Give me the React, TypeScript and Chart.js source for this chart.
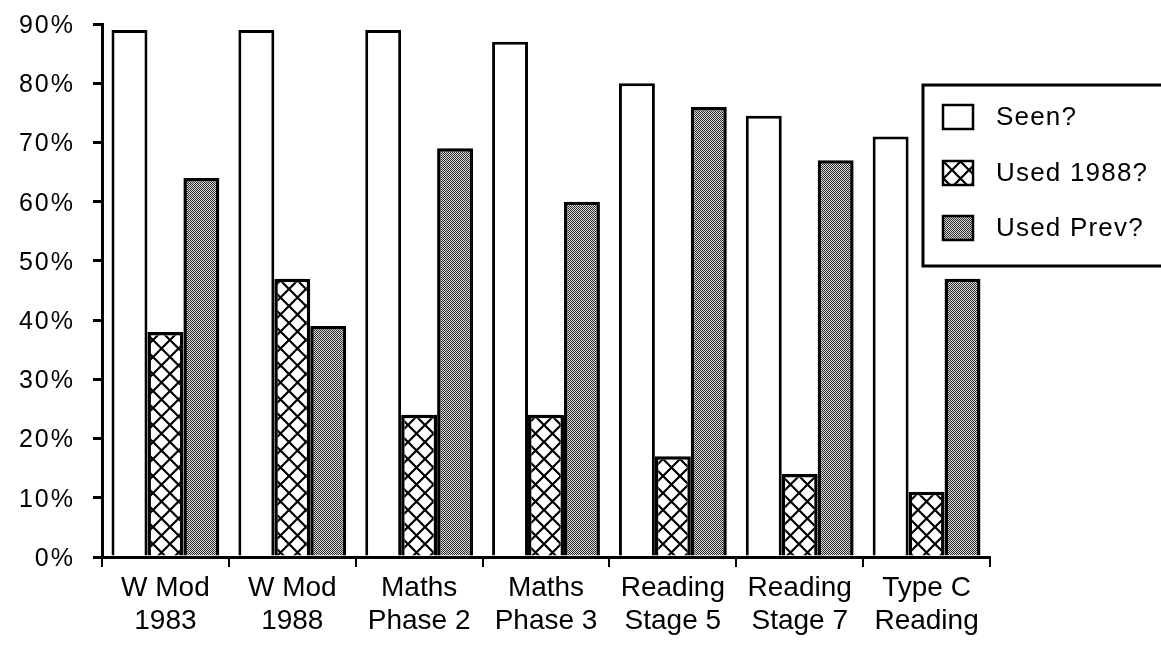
import React, { useEffect, useRef } from "react";
import { Chart, registerables } from "chart.js";
Chart.register(...registerables);

const categories: string[][] = [
  ["W Mod", "1983"],
  ["W Mod", "1988"],
  ["Maths", "Phase 2"],
  ["Maths", "Phase 3"],
  ["Reading", "Stage 5"],
  ["Reading", "Stage 7"],
  ["Type C", "Reading"],
];
const seriesLabels = ["Seen?", "Used 1988?", "Used Prev?"];
const seen = [89, 89, 89, 87, 80, 74.5, 71];
const used1988 = [38, 47, 24, 24, 17, 14, 11];
const usedPrev = [64, 39, 69, 60, 76, 67, 47];
const yMin = 0;
const yMax = 90;
const yStep = 10;

const FONT = '"Liberation Sans", Arial, sans-serif';

function makeCrossPattern(ctx: CanvasRenderingContext2D) {
  const s = 17;
  const c = document.createElement("canvas");
  c.width = s;
  c.height = s;
  const g = c.getContext("2d")!;
  g.fillStyle = "#fff";
  g.fillRect(0, 0, s, s);
  g.strokeStyle = "#000";
  g.lineWidth = 2.2;
  g.beginPath();
  g.moveTo(0, 0);
  g.lineTo(s, s);
  g.moveTo(s, 0);
  g.lineTo(0, s);
  g.stroke();
  return ctx.createPattern(c, "repeat")!;
}

function makeStipplePattern(ctx: CanvasRenderingContext2D) {
  const s = 4;
  const c = document.createElement("canvas");
  c.width = s;
  c.height = s;
  const g = c.getContext("2d")!;
  g.fillStyle = "#d6d6d6";
  g.fillRect(0, 0, s, s);
  g.fillStyle = "#303030";
  const dots = [
    [0, 0], [2, 0], [1, 1], [3, 1], [0, 2], [2, 2], [1, 3], [3, 3],
  ];
  for (const [x, y] of dots) g.fillRect(x, y, 1, 1);
  return ctx.createPattern(c, "repeat")!;
}

const textPlugin = {
  id: "boxLegendAndYLabels",
  afterDraw(chart: any) {
    const ctx: CanvasRenderingContext2D = chart.ctx;
    ctx.save();
    // y tick labels with wide letter spacing
    const ys = chart.scales.y;
    (ctx as any).letterSpacing = "2px";
    ctx.fillStyle = "#000";
    ctx.font = `25px ${FONT}`;
    ctx.textAlign = "right";
    ctx.textBaseline = "middle";
    ys.ticks.forEach((t: any) => {
      const py = ys.getPixelForValue(t.value);
      ctx.fillText(`${t.value}%`, 75, py + 2);
    });
    // legend box
    const bx = 923, by = 85, bw = 260, bh = 181;
    ctx.fillStyle = "#fff";
    ctx.fillRect(bx, by, bw, bh);
    ctx.lineWidth = 3;
    ctx.strokeStyle = "#000";
    ctx.strokeRect(bx, by, bw, bh);
    const rows = [117, 173, 228];
    (ctx as any).letterSpacing = "1.2px";
    chart.data.datasets.forEach((ds: any, i: number) => {
      const cy = rows[i];
      ctx.fillStyle = ds.backgroundColor;
      ctx.fillRect(943, cy - 12, 30, 24);
      ctx.lineWidth = 2.5;
      ctx.strokeStyle = "#000";
      ctx.strokeRect(943, cy - 12, 30, 24);
      ctx.fillStyle = "#000";
      ctx.font = `26px ${FONT}`;
      ctx.textBaseline = "middle";
      ctx.textAlign = "left";
      ctx.fillText(ds.label, 996, cy + 1);
    });
    ctx.restore();
  },
};

export default function App() {
  const ref = useRef<HTMLCanvasElement | null>(null);
  useEffect(() => {
    document.body.style.margin = "0";
    const canvas = ref.current!;
    const ctx = canvas.getContext("2d")!;
    const cross = makeCrossPattern(ctx);
    const stipple = makeStipplePattern(ctx);
    const chart = new Chart(ctx, {
      type: "bar",
      data: {
        labels: categories,
        datasets: [
          { label: seriesLabels[0], data: seen, backgroundColor: "#fff", borderColor: "#000", borderWidth: 3 },
          { label: seriesLabels[1], data: used1988, backgroundColor: cross as any, borderColor: "#000", borderWidth: 3.5 },
          { label: seriesLabels[2], data: usedPrev, backgroundColor: stipple as any, borderColor: "#000", borderWidth: 3.5 },
        ],
      },
      options: {
        animation: false,
        responsive: true,
        maintainAspectRatio: false,
        layout: { padding: { top: 24, right: 171, left: 0, bottom: 0 } },
        datasets: { bar: { barPercentage: 1, categoryPercentage: 0.85 } } as any,
        plugins: { legend: { display: false }, tooltip: { enabled: false } },
        scales: {
          x: {
            grid: { display: true, drawOnChartArea: false, drawTicks: true, tickLength: 10, color: "#000", lineWidth: 2, offset: true },
            border: { display: true, color: "#000", width: 3 },
            ticks: { color: "#000", font: { family: FONT, size: 28, lineHeight: 1.2 }, padding: 4, maxRotation: 0, autoSkip: false },
            afterFit: (s: any) => { s.height = 88; },
          },
          y: {
            min: yMin,
            max: yMax,
            grid: { display: true, drawOnChartArea: false, drawTicks: true, tickLength: 9, color: "#000", lineWidth: 3 },
            border: { display: true, color: "#000", width: 3 },
            ticks: {
              stepSize: yStep,
              display: false,
            },
            afterFit: (s: any) => { s.width = 102; },
          },
        },
      },
      plugins: [textPlugin],
    });
    return () => chart.destroy();
  }, []);
  return (
    <div style={{ position: "absolute", left: 0, top: 0, width: 1161, height: 645, background: "#fff" }}>
      <canvas ref={ref} />
    </div>
  );
}
